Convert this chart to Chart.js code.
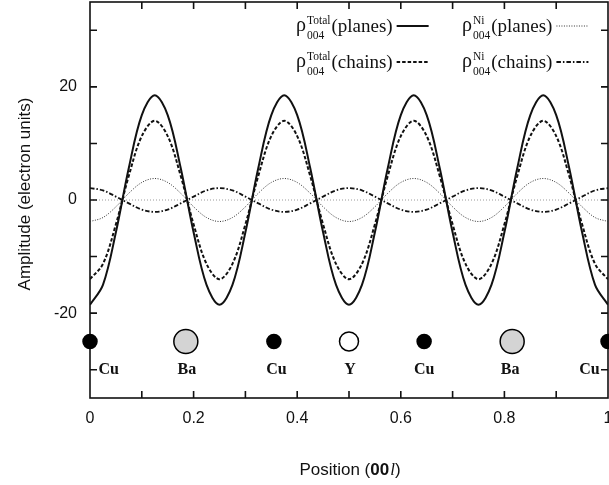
<!DOCTYPE html>
<html>
<head>
<meta charset="utf-8">
<script src="https://cdn.jsdelivr.net/npm/chart.js@4.4.0/dist/chart.umd.min.js"></script>
<style>
  html, body { margin: 0; padding: 0; background: #fff; }
</style>
</head>
<body>
<canvas id="chart" width="609" height="485"></canvas>
<script>
// position along c (00l), sampled every 0.025
const positions = [0, 0.025, 0.05, 0.075, 0.1, 0.125, 0.15, 0.175, 0.2, 0.225,
  0.25, 0.275, 0.3, 0.325, 0.35, 0.375, 0.4, 0.425, 0.45, 0.475,
  0.5, 0.525, 0.55, 0.575, 0.6, 0.625, 0.65, 0.675, 0.7, 0.725,
  0.75, 0.775, 0.8, 0.825, 0.85, 0.875, 0.9, 0.925, 0.95, 0.975, 1];

const totalPlanes = [-18.5, -15.0, -5.7, 5.7, 15.0, 18.5, 15.0, 5.7, -5.7, -15.0,
  -18.5, -15.0, -5.7, 5.7, 15.0, 18.5, 15.0, 5.7, -5.7, -15.0,
  -18.5, -15.0, -5.7, 5.7, 15.0, 18.5, 15.0, 5.7, -5.7, -15.0,
  -18.5, -15.0, -5.7, 5.7, 15.0, 18.5, 15.0, 5.7, -5.7, -15.0, -18.5];

const totalChains = [-14.0, -11.3, -4.3, 4.3, 11.3, 14.0, 11.3, 4.3, -4.3, -11.3,
  -14.0, -11.3, -4.3, 4.3, 11.3, 14.0, 11.3, 4.3, -4.3, -11.3,
  -14.0, -11.3, -4.3, 4.3, 11.3, 14.0, 11.3, 4.3, -4.3, -11.3,
  -14.0, -11.3, -4.3, 4.3, 11.3, 14.0, 11.3, 4.3, -4.3, -11.3, -14.0];

const niPlanes = [-3.8, -3.1, -1.2, 1.2, 3.1, 3.8, 3.1, 1.2, -1.2, -3.1,
  -3.8, -3.1, -1.2, 1.2, 3.1, 3.8, 3.1, 1.2, -1.2, -3.1,
  -3.8, -3.1, -1.2, 1.2, 3.1, 3.8, 3.1, 1.2, -1.2, -3.1,
  -3.8, -3.1, -1.2, 1.2, 3.1, 3.8, 3.1, 1.2, -1.2, -3.1, -3.8];

const niChains = [2.1, 1.7, 0.6, -0.6, -1.7, -2.1, -1.7, -0.6, 0.6, 1.7,
  2.1, 1.7, 0.6, -0.6, -1.7, -2.1, -1.7, -0.6, 0.6, 1.7,
  2.1, 1.7, 0.6, -0.6, -1.7, -2.1, -1.7, -0.6, 0.6, 1.7,
  2.1, 1.7, 0.6, -0.6, -1.7, -2.1, -1.7, -0.6, 0.6, 1.7, 2.1];

// atoms in the unit cell
const atomNames = ['Cu', 'Ba', 'Cu', 'Y', 'Cu', 'Ba', 'Cu'];
const atomPos = [0, 0.185, 0.355, 0.5, 0.645, 0.815, 1];
const atomLabelPos = [0.036, 0.187, 0.36, 0.502, 0.645, 0.811, 0.964];
const atomRow = -25;
const atomLabelRow = -30;

const xTickLabels = ['0', '0.2', '0.4', '0.6', '0.8', '1'];
const yTickMarks = [-30, -20, -10, 0, 10, 20, 30];
const yTickValues = [-20, 0, 20];
const yTickLabels = ['-20', '0', '20'];

const legendRows = [
  { sup: 'Total', text: '(planes)', set: 0 },
  { sup: 'Ni', text: '(planes)', set: 2 },
  { sup: 'Total', text: '(chains)', set: 1 },
  { sup: 'Ni', text: '(chains)', set: 3 }
];

const atomStyle = {
  Cu: { r: 7, fill: '#000' },
  Ba: { r: 12, fill: '#d4d4d4' },
  Y: { r: 9.5, fill: '#fff' }
};

function curve(label, values, width, dash, color) {
  return {
    type: 'line',
    label: label,
    data: positions.map((x, i) => ({ x: x, y: values[i] })),
    borderColor: color,
    borderWidth: width,
    borderDash: dash,
    pointRadius: 0,
    tension: 0.35,
    fill: false
  };
}

const serif = '"Liberation Serif", "DejaVu Serif", serif';
const sans = '"Liberation Sans", Arial, sans-serif';

const decorations = {
  id: 'decorations',
  beforeDraw(chart) {
    const c = chart.ctx;
    c.save();
    c.fillStyle = '#fff';
    c.fillRect(0, 0, chart.width, chart.height);
    c.restore();
  },
  beforeDatasetsDraw(chart) {
    const c = chart.ctx;
    const a = chart.chartArea;
    const xs = chart.scales.x, ys = chart.scales.y;
    c.save();
    // zero line
    c.strokeStyle = '#9a9a9a';
    c.lineWidth = 1;
    c.setLineDash([1, 2]);
    const y0 = ys.getPixelForValue(0);
    c.beginPath();
    c.moveTo(a.left, y0);
    c.lineTo(a.right, y0);
    c.stroke();
    c.setLineDash([]);
    // frame
    c.strokeStyle = '#111';
    c.lineWidth = 1.6;
    c.strokeRect(a.left, a.top, a.right - a.left, a.bottom - a.top);
    // inward tick marks
    const len = 7;
    c.beginPath();
    xs.ticks.forEach(t => {
      if (t.value <= xs.min || t.value >= xs.max) return;
      const px = xs.getPixelForValue(t.value);
      c.moveTo(px, a.bottom); c.lineTo(px, a.bottom - len);
      c.moveTo(px, a.top); c.lineTo(px, a.top + len);
    });
    ys.ticks.forEach(t => {
      if (t.value <= ys.min || t.value >= ys.max) return;
      const py = ys.getPixelForValue(t.value);
      c.moveTo(a.left, py); c.lineTo(a.left + len, py);
      c.moveTo(a.right, py); c.lineTo(a.right - len, py);
    });
    c.stroke();
    c.restore();
  },
  afterDraw(chart) {
    const c = chart.ctx;
    const xs = chart.scales.x, ys = chart.scales.y;
    c.save();
    c.fillStyle = '#111';
    // atom labels
    c.font = 'bold 16px ' + serif;
    c.textAlign = 'center';
    c.textBaseline = 'middle';
    atomNames.forEach((n, i) => {
      c.fillText(n, xs.getPixelForValue(atomLabelPos[i]), ys.getPixelForValue(atomLabelRow));
    });
    // legend
    c.textAlign = 'left';
    c.textBaseline = 'alphabetic';
    legendRows.forEach((row, i) => {
      const col = i % 2, line = Math.floor(i / 2);
      const x = col === 0 ? 296 : 462;
      const base = 32 + line * 36;
      c.font = '20px ' + serif;
      c.fillText('\u03c1', x, base - 1);
      const rw = c.measureText('\u03c1').width;
      c.font = '11.5px ' + serif;
      c.fillText(row.sup, x + rw + 1, base - 8);
      const sw = c.measureText(row.sup).width;
      c.fillText('004', x + rw + 1, base + 7);
      const bw = c.measureText('004').width;
      const tx = x + rw + 2 + Math.max(sw, bw);
      c.font = '19px ' + serif;
      c.fillText(row.text, tx, base);
      const tw = c.measureText(row.text).width;
      const ds = chart.data.datasets[row.set];
      c.save();
      c.strokeStyle = ds.borderColor;
      c.lineWidth = ds.borderWidth;
      c.setLineDash(ds.borderDash || []);
      c.beginPath();
      c.moveTo(tx + tw + 4, base - 6);
      c.lineTo(tx + tw + 36, base - 6);
      c.stroke();
      c.restore();
    });
    // axis titles
    const t1 = 'Position (', t2 = '00', t3 = 'l', t4 = ')';
    c.font = '17px ' + sans; const w1 = c.measureText(t1).width;
    c.font = 'bold 17px ' + sans; const w2 = c.measureText(t2).width;
    c.font = 'italic 17px ' + serif; const w3 = c.measureText(t3).width;
    c.font = '17px ' + sans; const w4 = c.measureText(t4).width;
    let tx = 350 - (w1 + w2 + w3 + w4 + 1) / 2;
    const ty = 475;
    c.font = '17px ' + sans; c.fillText(t1, tx, ty); tx += w1;
    c.font = 'bold 17px ' + sans; c.fillText(t2, tx, ty); tx += w2 + 1;
    c.font = 'italic 17px ' + serif; c.fillText(t3, tx, ty); tx += w3;
    c.font = '17px ' + sans; c.fillText(t4, tx, ty);

    c.translate(25, 194);
    c.rotate(-Math.PI / 2);
    c.textAlign = 'center';
    c.textBaseline = 'middle';
    c.font = '17px ' + sans;
    c.fillText('Amplitude (electron units)', 0, 0);
    c.restore();
  }
};

const ctx = document.getElementById('chart').getContext('2d');
new Chart(ctx, {
  type: 'line',
  data: {
    datasets: [
      curve('Total planes', totalPlanes, 2, [], '#111'),
      curve('Total chains', totalChains, 2, [3.5, 2], '#111'),
      curve('Ni planes', niPlanes, 1, [1, 1.5], '#333'),
      curve('Ni chains', niChains, 1.8, [4.5, 2, 1.5, 2], '#111'),
      {
        type: 'scatter',
        label: 'atoms',
        data: atomPos.map(x => ({ x: x, y: atomRow })),
        showLine: false,
        pointRadius: atomNames.map(n => atomStyle[n].r),
        pointBackgroundColor: atomNames.map(n => atomStyle[n].fill),
        pointBorderColor: '#000',
        pointBorderWidth: 1.5,
        clip: false
      }
    ]
  },
  options: {
    responsive: false,
    animation: false,
    devicePixelRatio: 1,
    layout: { autoPadding: false, padding: { top: 2, right: 1, left: 0, bottom: 0 } },
    plugins: { legend: { display: false }, tooltip: { enabled: false } },
    events: [],
    scales: {
      x: {
        type: 'linear',
        min: 0,
        max: 1,
        grid: { display: false, drawTicks: false },
        border: { display: false },
        ticks: {
          stepSize: 0.1,
          autoSkip: false,
          maxRotation: 0,
          padding: 11,
          color: '#111',
          font: { family: 'Liberation Sans', size: 16 },
          callback: v => {
            const r = Math.round(v * 10);
            return r % 2 === 0 ? xTickLabels[r / 2] : '';
          }
        },
        afterFit: s => { s.height = 87; s.paddingLeft = 0; s.paddingRight = 0; }
      },
      y: {
        min: -35,
        max: 35,
        grid: { display: false, drawTicks: false },
        border: { display: false },
        afterBuildTicks: s => { s.ticks = yTickMarks.map(v => ({ value: v })); },
        ticks: {
          autoSkip: false,
          padding: 13,
          color: '#111',
          font: { family: 'Liberation Sans', size: 16 },
          callback: v => {
            const k = yTickValues.indexOf(v);
            return k >= 0 ? yTickLabels[k] : '';
          }
        },
        afterFit: s => { s.width = 90; s.paddingTop = 0; s.paddingBottom = 0; }
      }
    }
  },
  plugins: [decorations]
});
</script>
</body>
</html>
